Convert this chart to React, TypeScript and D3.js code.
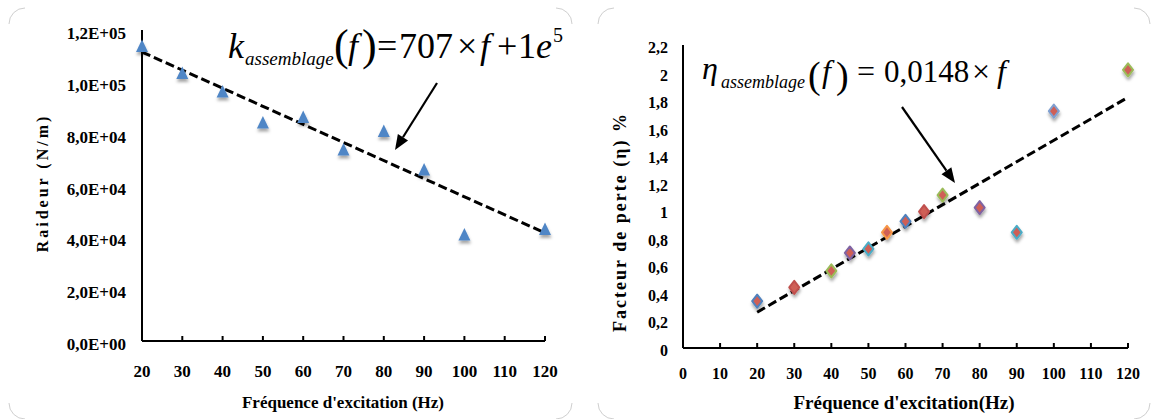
import React from 'react';
import * as d3 from 'd3';

// ---------- Left chart data ----------
const freqK = [20, 30, 40, 50, 60, 70, 80, 90, 100, 120];
const raideur = [113600, 103200, 96100, 84100, 86200, 73700, 80800, 66000, 40900, 43000];
const trendKf = [20, 120];
const trendKv = [111500, 41700];
const kTicks = [0, 20000, 40000, 60000, 80000, 100000, 120000];
const kTickLabels = ['0,0E+00', '2,0E+04', '4,0E+04', '6,0E+04', '8,0E+04', '1,0E+05', '1,2E+05'];
const freqTicksLeft = [20, 30, 40, 50, 60, 70, 80, 90, 100, 110, 120];

// ---------- Right chart data ----------
const freqEta = [20, 30, 40, 45, 50, 55, 60, 65, 70, 80, 90, 100, 120];
const perte = [0.34, 0.44, 0.56, 0.69, 0.72, 0.84, 0.92, 0.99, 1.11, 1.02, 0.84, 1.72, 2.02];
const perteOutline = ['#4F81BD', '#C0504D', '#9BBB59', '#8064A2', '#4BACC6', '#F79646', '#4F81BD', '#C0504D', '#9BBB59', '#8064A2', '#4BACC6', '#7F9FD0', '#9BBB59'];
const trendEf = [20, 120];
const trendEv = [0.26, 1.82];
const etaTicks = [0, 0.2, 0.4, 0.6, 0.8, 1, 1.2, 1.4, 1.6, 1.8, 2, 2.2];
const etaTickLabels = ['0', '0,2', '0,4', '0,6', '0,8', '1', '1,2', '1,4', '1,6', '1,8', '2', '2,2'];
const freqTicksRight = [0, 10, 20, 30, 40, 50, 60, 70, 80, 90, 100, 110, 120];

const SERIF = "Liberation Serif, Times New Roman, serif";

function arrowPath(x1: number, y1: number, x2: number, y2: number, len = 15, half = 6) {
  const a = Math.atan2(y2 - y1, x2 - x1);
  const bx = x2 - len * Math.cos(a);
  const by = y2 - len * Math.sin(a);
  const px = -Math.sin(a) * half;
  const py = Math.cos(a) * half;
  return {
    line: `M${x1},${y1}L${bx},${by}`,
    head: `M${x2},${y2}L${bx + px},${by + py}L${bx - px},${by - py}Z`,
  };
}

function corners(x0: number, y0: number, x1: number, y1: number, r: number) {
  return [
    `M${x0},${y0 + r}A${r},${r} 0 0 1 ${x0 + r},${y0}`,
    `M${x1 - r},${y0}A${r},${r} 0 0 1 ${x1},${y0 + r}`,
    `M${x1},${y1 - r}A${r},${r} 0 0 1 ${x1 - r},${y1}`,
    `M${x0 + r},${y1}A${r},${r} 0 0 1 ${x0},${y1 - r}`,
  ];
}

export default function App() {
  const xK = d3.scaleLinear().domain([20, 120]).range([142, 545]);
  const yK = d3.scaleLinear().domain([0, 120000]).range([341, 30]);
  const xE = d3.scaleLinear().domain([0, 120]).range([683, 1128]);
  const yE = d3.scaleLinear().domain([0, 2.2]).range([348, 45]);

  const lineK = d3.line<number>().x((_, i) => xK(trendKf[i])).y((d) => yK(d));
  const lineE = d3.line<number>().x((_, i) => xE(trendEf[i])).y((d) => yE(d));

  const tri = (cx: number, cy: number) => `M${cx},${cy - 7}L${cx + 6},${cy + 5.5}L${cx - 6},${cy + 5.5}Z`;
  const dia = (cx: number, cy: number, w: number, h: number) =>
    `M${cx},${cy - h}L${cx + w},${cy}L${cx},${cy + h}L${cx - w},${cy}Z`;

  const arL = arrowPath(437, 83, 395, 150);
  const arR = arrowPath(902, 107, 955, 183);

  return (
    <svg
      width={1152}
      height={419}
      style={{ position: 'absolute', left: 0, top: 0, background: '#fff' }}
      fontFamily={SERIF}
    >
      <defs>
        <filter id="shadow" x="-50%" y="-50%" width="200%" height="220%">
          <feDropShadow dx="0.5" dy="3" stdDeviation="1.4" floodColor="#000" floodOpacity="0.35" />
        </filter>
      </defs>

      {[...corners(9, 8, 572, 419, 16), ...corners(598, 8, 1150, 419, 16)].map((d, i) => (
        <path key={i} d={d} fill="none" stroke="#cfcfcf" strokeWidth={1} />
      ))}

      {/* ================= LEFT CHART ================= */}
      <g>
        <line x1={xK(20)} x2={xK(20)} y1={yK(120000)} y2={yK(0)} stroke="#000" strokeWidth={2} />
        <line x1={xK(20)} x2={xK(120)} y1={yK(0)} y2={yK(0)} stroke="#000" strokeWidth={2} />
        {freqTicksLeft.slice(1).map((f) => (
          <line key={f} x1={xK(f)} x2={xK(f)} y1={yK(0)} y2={yK(0) - 5} stroke="#000" strokeWidth={2} />
        ))}
        {kTicks.map((v, i) => (
          <text key={v} x={126} y={yK(v) + 9} textAnchor="end" fontSize={17} fontWeight="bold">
            {kTickLabels[i]}
          </text>
        ))}
        {freqTicksLeft.map((f) => (
          <text key={f} x={xK(f)} y={377} textAnchor="middle" fontSize={17} fontWeight="bold">
            {f}
          </text>
        ))}
        <text x={343} y={408} textAnchor="middle" fontSize={17} fontWeight="bold">
          Fréquence d'excitation (Hz)
        </text>
        <text
          transform="translate(48,183) rotate(-90)"
          textAnchor="middle"
          fontSize={16}
          fontWeight="bold"
          letterSpacing={3}
        >
          Raideur (N/m)
        </text>

        <path d={lineK(trendKv) || ''} fill="none" stroke="#000" strokeWidth={3} strokeDasharray="9 4" />

        <g filter="url(#shadow)">
          {freqK.map((f, i) => (
            <path key={f} d={tri(xK(f), yK(raideur[i]))} fill="#4F86C6" />
          ))}
        </g>

        <g fill="#000">
          <text x={228} y={58} fontSize={36} fontStyle="italic">k</text>
          <text x={245} y={65} fontSize={19} fontStyle="italic">assemblage</text>
          <text x={334} y={60} fontSize={44}>(</text>
          <text x={348} y={58} fontSize={36} fontStyle="italic">f</text>
          <text x={362} y={60} fontSize={44}>)</text>
          <text x={377} y={58} fontSize={36}>=</text>
          <text x={399} y={58} fontSize={36}>707</text>
          <text x={457} y={58} fontSize={36}>×</text>
          <text x={480} y={58} fontSize={36} fontStyle="italic">f</text>
          <text x={497} y={58} fontSize={36}>+</text>
          <text x={518} y={58} fontSize={36}>
            1<tspan fontStyle="italic">e</tspan>
            <tspan fontSize={20} dy={-16} dx={1}>5</tspan>
          </text>
        </g>
        <path d={arL.line} stroke="#000" strokeWidth={2.2} fill="none" />
        <path d={arL.head} fill="#000" />
      </g>

      {/* ================= RIGHT CHART ================= */}
      <g>
        <line x1={xE(0)} x2={xE(0)} y1={yE(2.2)} y2={yE(0)} stroke="#000" strokeWidth={2} />
        <line x1={xE(0)} x2={xE(120)} y1={yE(0)} y2={yE(0)} stroke="#000" strokeWidth={2} />
        {freqTicksRight.slice(1).map((f) => (
          <line key={f} x1={xE(f)} x2={xE(f)} y1={yE(0)} y2={yE(0) - 5} stroke="#000" strokeWidth={2} />
        ))}
        {etaTicks.map((v, i) => (
          <text key={v} x={668} y={yE(v) + 8} textAnchor="end" fontSize={16} fontWeight="bold">
            {etaTickLabels[i]}
          </text>
        ))}
        {freqTicksRight.map((f) => (
          <text key={f} x={xE(f)} y={379} textAnchor="middle" fontSize={16} fontWeight="bold">
            {f}
          </text>
        ))}
        <text x={904} y={409} textAnchor="middle" fontSize={19} fontWeight="bold">
          Fréquence d'excitation(Hz)
        </text>
        <text
          transform="translate(626,222) rotate(-90)"
          textAnchor="middle"
          fontSize={18}
          fontWeight="bold"
          letterSpacing={2}
        >
          Facteur de perte (η) %
        </text>

        <path d={lineE(trendEv) || ''} fill="none" stroke="#000" strokeWidth={3} strokeDasharray="9 4" />

        <g filter="url(#shadow)">
          {freqEta.map((f, i) => (
            <path
              key={f}
              d={dia(xE(f), yE(perte[i]), 5, 6.5)}
              fill="#CF5F57"
              stroke={perteOutline[i]}
              strokeWidth={2}
              strokeLinejoin="round"
            />
          ))}
        </g>

        <g fill="#000">
          <text x={702} y={79} fontSize={32} fontStyle="italic">η</text>
          <text x={721} y={88} fontSize={18} fontStyle="italic">assemblage</text>
          <text x={808} y={88} fontSize={38}>(</text>
          <text x={822} y={82} fontSize={32} fontStyle="italic">f</text>
          <text x={836} y={88} fontSize={38}>)</text>
          <text x={857} y={82} fontSize={32}>=</text>
          <text x={884} y={82} fontSize={31}>0,0148</text>
          <text x={972} y={82} fontSize={32}>×</text>
          <text x={997} y={82} fontSize={32} fontStyle="italic">f</text>
        </g>
        <path d={arR.line} stroke="#000" strokeWidth={2.2} fill="none" />
        <path d={arR.head} fill="#000" />
      </g>
    </svg>
  );
}
